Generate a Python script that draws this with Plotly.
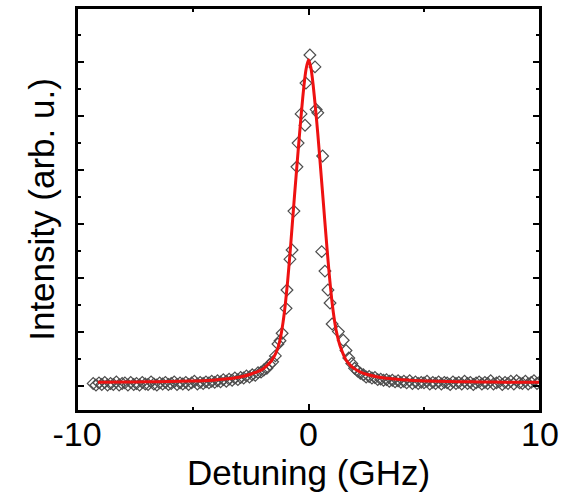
import plotly.graph_objects as go

# ---- measured data (diamonds) ----
x_left = [-9.30, -9.18, -9.05, -8.93, -8.80, -8.68, -8.55, -8.43, -8.30, -8.18,
          -8.05, -7.93, -7.80, -7.68, -7.55, -7.43, -7.30, -7.18, -7.05, -6.93,
          -6.80, -6.68, -6.55, -6.43, -6.30, -6.18, -6.05, -5.93, -5.80, -5.68,
          -5.55, -5.43, -5.30, -5.18, -5.05, -4.93, -4.80, -4.68, -4.55, -4.43,
          -4.30, -4.18, -4.05, -3.93, -3.80, -3.68, -3.55, -3.43, -3.30, -3.18,
          -3.05, -2.93, -2.80, -2.68, -2.55, -2.43, -2.30, -2.18, -2.05, -1.93,
          -1.80, -1.68, -1.55, -1.43]
y_left = [0.05, 0.02, 0.06, 0.03, 0.07, 0.02, 0.05, 0.03, 0.08, 0.02,
          0.05, 0.06, 0.02, 0.07, 0.03, 0.05, 0.02, 0.07, 0.04, 0.03,
          0.08, 0.04, 0.02, 0.06, 0.04, 0.07, 0.03, 0.05, 0.08, 0.03,
          0.06, 0.04, 0.07, 0.03, 0.06, 0.09, 0.04, 0.07, 0.05, 0.08,
          0.06, 0.09, 0.07, 0.10, 0.08, 0.12, 0.09, 0.13, 0.11, 0.15,
          0.12, 0.16, 0.15, 0.19, 0.17, 0.21, 0.20, 0.25, 0.26, 0.30,
          0.33, 0.40, 0.45, 0.56]

x_peak = [-1.32, -1.23, -1.14, -0.97, -0.93, -0.80, -0.71, -0.63, -0.50, -0.45,
          -0.32, -0.15, -0.11, 0.06, 0.28, 0.33, 0.40, 0.61, 0.57, 0.71,
          0.84, 0.93, 1.02, 1.29, 1.50]
y_peak = [0.78, 0.84, 0.98, 1.44, 1.78, 2.35, 2.52, 3.24, 4.06, 4.50,
          5.04, 4.83, 5.61, 6.13, 5.91, 5.12, 5.06, 4.26, 2.49, 2.13,
          1.78, 1.54, 1.15, 1.01, 0.85]

x_right = [1.62, 1.74, 1.87, 1.99, 2.12, 2.24, 2.37, 2.49, 2.62, 2.74,
           2.87, 2.99, 3.12, 3.24, 3.37, 3.49, 3.62, 3.74, 3.87, 3.99,
           4.12, 4.24, 4.37, 4.49, 4.62, 4.74, 4.87, 4.99, 5.12, 5.24,
           5.37, 5.49, 5.62, 5.74, 5.87, 5.99, 6.12, 6.24, 6.37, 6.49,
           6.62, 6.74, 6.87, 6.99, 7.12, 7.24, 7.37, 7.49, 7.62, 7.74,
           7.87, 7.99, 8.12, 8.24, 8.37, 8.49, 8.62, 8.74, 8.87, 8.99,
           9.12, 9.24, 9.37, 9.49, 9.62, 9.74, 9.87, 9.99]
y_right = [0.66, 0.52, 0.42, 0.33, 0.28, 0.24, 0.21, 0.17, 0.18, 0.15,
           0.16, 0.12, 0.13, 0.11, 0.12, 0.09, 0.11, 0.08, 0.10, 0.07,
           0.09, 0.06, 0.10, 0.05, 0.08, 0.05, 0.07, 0.06, 0.09, 0.04,
           0.07, 0.05, 0.08, 0.04, 0.07, 0.06, 0.03, 0.08, 0.05, 0.07,
           0.04, 0.09, 0.05, 0.07, 0.03, 0.06, 0.08, 0.04, 0.07, 0.05,
           0.10, 0.04, 0.06, 0.08, 0.03, 0.07, 0.05, 0.09, 0.04, 0.10,
           0.06, 0.05, 0.09, 0.04, 0.07, 0.10, 0.05, 0.08]

# ---- fitted curve (red) ----
x_fit = [-9.1, -8.0, -7.0, -6.0, -5.0, -4.5, -4.0, -3.5, -3.0, -2.5,
         -2.2, -2.0, -1.8, -1.6, -1.4, -1.3, -1.2, -1.1, -1.0, -0.9,
         -0.8, -0.7, -0.6, -0.5, -0.4, -0.3, -0.2, -0.1, 0.0, 0.1,
         0.2, 0.3, 0.4, 0.5, 0.6, 0.7, 0.8, 0.9, 1.0, 1.1,
         1.2, 1.3, 1.4, 1.6, 1.8, 2.0, 2.2, 2.5, 3.0, 3.5,
         4.0, 4.5, 5.0, 6.0, 7.0, 8.0, 9.0, 10.0]
y_fit = [0.070, 0.075, 0.080, 0.085, 0.095, 0.100, 0.115, 0.135, 0.165, 0.220,
         0.270, 0.310, 0.380, 0.470, 0.620, 0.740, 0.920, 1.180, 1.520, 1.950,
         2.450, 3.000, 3.550, 4.080, 4.600, 5.100, 5.550, 5.880, 6.040, 5.900,
         5.580, 5.150, 4.680, 4.150, 3.620, 3.080, 2.550, 2.050, 1.620, 1.280,
         1.020, 0.840, 0.700, 0.500, 0.390, 0.320, 0.270, 0.220, 0.170, 0.140,
         0.120, 0.105, 0.095, 0.085, 0.080, 0.075, 0.072, 0.070]

x_ticks = [-10, 0, 10]
x_ticktext = ["-10", "0", "10"]

x_data = x_left + x_peak + x_right
y_data = y_left + y_peak + y_right

FONT = "Liberation Sans, Arial, sans-serif"

fig = go.Figure()
fig.add_trace(go.Scatter(
    x=x_data, y=y_data, mode="markers",
    marker=dict(symbol="diamond-open", size=9, color="#4d4d4d",
                line=dict(width=1.2, color="#4d4d4d")),
    showlegend=False, cliponaxis=True))
fig.add_trace(go.Scatter(
    x=x_fit, y=y_fit, mode="lines", line=dict(color="#ee1111", width=3, shape="spline", smoothing=0.6),
    showlegend=False))

axis_common = dict(showline=True, linecolor="black", linewidth=2, mirror="ticks",
                   ticks="inside", tickcolor="black", tickwidth=2, ticklen=7,
                   showgrid=False, zeroline=False, automargin=False)

fig.update_layout(
    width=578, height=497,
    margin=dict(l=77, r=38, t=8, b=86),
    paper_bgcolor="white", plot_bgcolor="white",
    font=dict(family=FONT, color="black"),
    xaxis=dict(range=[-10, 10], tickvals=x_ticks, ticktext=x_ticktext,
               tickfont=dict(size=34, color="black"), ticklabelstandoff=-8,
               minor=dict(dtick=5, tick0=0, ticks="inside", ticklen=4, tickwidth=2, tickcolor="black"),
               title=dict(text="Detuning (GHz)", font=dict(size=35, color="black"), standoff=5),
               **axis_common),
    yaxis=dict(range=[-0.46, 7.0], tick0=0, dtick=1, showticklabels=False,
               minor=dict(dtick=0.5, tick0=0, ticks="inside", ticklen=4, tickwidth=2, tickcolor="black"),
               title=dict(text="Intensity (arb. u.)", font=dict(size=35, color="black"), standoff=10),
               **axis_common),
    shapes=[dict(type="rect", xref="x domain", yref="y domain", x0=0, x1=1, y0=0, y1=1,
                 line=dict(color="black", width=2), fillcolor="rgba(0,0,0,0)", layer="above")],
)

fig.write_html("out.html", config={"displayModeBar": False},
               post_script="document.body.style.margin='0';document.body.style.overflow='hidden';")
